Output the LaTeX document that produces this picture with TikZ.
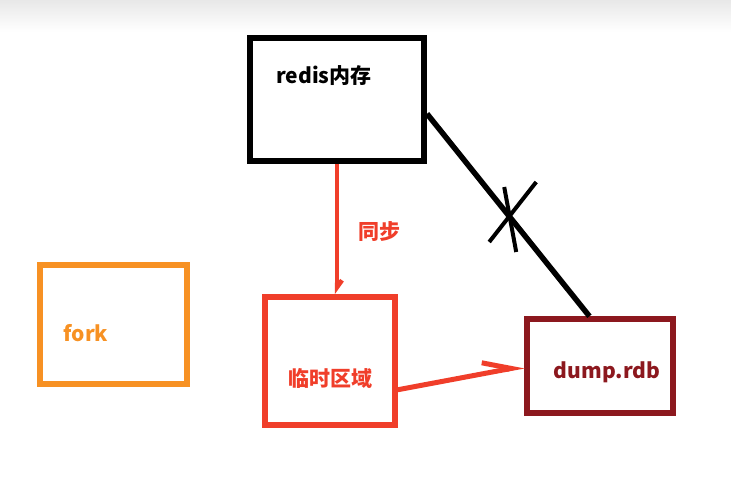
\documentclass[tikz,border=0pt]{standalone}
\usepackage{fontspec}
\setmainfont{Noto Sans CJK SC}
\usepackage{tikz}
\usetikzlibrary{calc}
\usetikzlibrary{arrows.meta}
\usetikzlibrary{positioning}
\definecolor{forkorange}{RGB}{247,145,35}
\definecolor{tmpred}{RGB}{240,62,42}
\definecolor{dumpred}{RGB}{140,24,30}
\tikzset{box/.style={draw, rectangle, inner sep=0pt, line width=5.5pt}}
\tikzset{lbl/.style={font=\bfseries\fontsize{21}{24}\selectfont, inner sep=0pt}}

\begin{document}
\begin{tikzpicture}[x=1pt, y=-1pt]
\useasboundingbox (0, 0) rectangle (731, 485);
\shade[top color=black!9, bottom color=white] (0, 0) rectangle (731, 32);

\tikzstyle{sync} = [line width=4.5pt, tmpred, -{Straight Barb[left, length=7pt, width=10pt]}]
\tikzstyle{save} = [line width=5pt, tmpred, -{Straight Barb[left, length=28pt, width=22pt]}]

\node[box, line width=6pt, minimum width=174, minimum height=123](redis) at (337, 99.5){};
\node[box, forkorange, minimum width=147, minimum height=119](fork) at (113.5, 324.5){};
\node[box, tmpred, minimum width=130, minimum height=128](tmp) at (330, 361){};
\node[box, dumpred, minimum width=146, minimum height=94](dump) at (600, 366){};

\node[lbl](redistext) at (324, 76){redis内存};
\node[lbl, forkorange](forktext) at (86, 333){fork};
\node[lbl, tmpred](tmptext) at (330, 378){临时区域};
\node[lbl, dumpred](dumptext) at (607, 372){dump.rdb};

\draw[sync] (redis.south) -- (redis.south |- tmp.north)
  node[lbl, tmpred, midway, right=19pt, yshift=-2pt](synctext){同步};
\draw[save] (tmp.-23) -- (dump.west);

\draw[line width=5.5pt] (redis.-9) -- (dump.102) coordinate[pos=0.5](cut);
\draw[line width=4pt] ($(cut)+(-19, 27)$) -- ($(cut)+(28, -33)$);
\draw[line width=4pt] ($(cut)+(-4, -28)$) -- ($(cut)+(8, 37)$);
\end{tikzpicture}
\end{document}
